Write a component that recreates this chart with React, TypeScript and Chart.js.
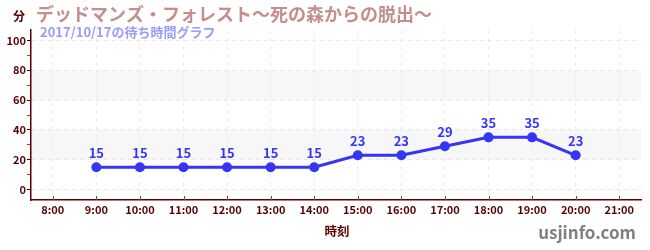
import React, { useEffect, useRef } from "react";
import { Chart, registerables } from "chart.js";

Chart.register(...registerables);

const hours = ["8:00", "9:00", "10:00", "11:00", "12:00", "13:00", "14:00", "15:00", "16:00", "17:00", "18:00", "19:00", "20:00", "21:00"];
const waitTimes: (number | null)[] = [null, 15, 15, 15, 15, 15, 15, 23, 23, 29, 35, 35, 23, null];
const yTicks = [0, 10, 20, 30, 40, 50, 60, 70, 80, 90, 100];
const bands: [number, number][] = [[20, 40], [60, 80]];

const titleText = "デッドマンズ・フォレスト〜死の森からの脱出〜";
const subtitleText = "2017/10/17の待ち時間グラフ";
const unitText = "分";
const xTitleText = "時刻";
const siteText = "usjinfo.com";

const FONT = "'Noto Sans CJK JP', 'Noto Sans', sans-serif";
const MAROON = "#5a0000";
const BLUE = "#3535f5";

export default function App() {
  const ref = useRef<HTMLCanvasElement | null>(null);

  useEffect(() => {
    const canvas = ref.current;
    if (!canvas) return;

    const decor = {
      id: "decor",
      beforeDraw(chart: any) {
        const { ctx, chartArea } = chart;
        const y = chart.scales.y;
        ctx.save();
        ctx.fillStyle = "#f7f7f7";
        for (const [a, b] of bands) {
          const y1 = y.getPixelForValue(b);
          const y2 = y.getPixelForValue(a);
          ctx.fillRect(chartArea.left, y1, chartArea.right - chartArea.left, y2 - y1);
        }
        ctx.restore();
      },
      afterDatasetsDraw(chart: any) {
        const { ctx, chartArea } = chart;
        const meta = chart.getDatasetMeta(0);
        ctx.save();
        // x-axis tick marks (inside)
        const x = chart.scales.x;
        ctx.strokeStyle = "#555";
        ctx.lineWidth = 1;
        hours.forEach((_, i) => {
          const px = Math.round(x.getPixelForValue(i)) + 0.5;
          ctx.beginPath();
          ctx.moveTo(px, chartArea.bottom - 4);
          ctx.lineTo(px, chartArea.bottom);
          ctx.stroke();
        });
        // data labels
        ctx.fillStyle = BLUE;
        ctx.font = `bold 13px ${FONT}`;
        ctx.textAlign = "center";
        ctx.textBaseline = "middle";
        meta.data.forEach((pt: any, i: number) => {
          const v = waitTimes[i];
          if (v == null) return;
          ctx.fillText(String(v), pt.x, pt.y - 14);
        });
        ctx.restore();
      },
      afterDraw(chart: any) {
        const { ctx } = chart;
        ctx.save();
        ctx.textBaseline = "middle";
        ctx.textAlign = "left";
        ctx.fillStyle = MAROON;
        ctx.font = `bold 12px ${FONT}`;
        ctx.fillText(unitText, 13, 16);
        ctx.fillStyle = "#c48e8e";
        ctx.font = `bold 18px ${FONT}`;
        ctx.fillText(titleText, 36, 14);
        ctx.fillStyle = "#9a9aff";
        ctx.font = `bold 13px ${FONT}`;
        ctx.fillText(subtitleText, 40, 32);
        ctx.fillStyle = MAROON;
        ctx.font = `bold 12.5px ${FONT}`;
        ctx.textAlign = "center";
        ctx.fillText(xTitleText, 337, 231);
        ctx.fillStyle = "#808080";
        ctx.font = `bold 17px ${FONT}`;
        ctx.textAlign = "right";
        ctx.fillText(siteText, 636, 233);
        ctx.restore();
      },
    };

    const chart = new Chart(canvas, {
      type: "line",
      data: {
        labels: hours,
        datasets: [
          {
            data: waitTimes,
            borderColor: BLUE,
            backgroundColor: BLUE,
            borderWidth: 3,
            pointRadius: 5,
            pointBorderWidth: 0,
            pointBackgroundColor: BLUE,
            tension: 0,
            fill: false,
          },
        ],
      },
      options: {
        responsive: false,
        animation: false,
        layout: { padding: { top: 30, right: 9, left: 0, bottom: 0 } },
        plugins: { legend: { display: false }, tooltip: { enabled: false }, title: { display: false } },
        scales: {
          x: {
            type: "category",
            offset: true,
            afterFit: (s: any) => { s.height = 50; },
            grid: { offset: false, color: "#ececec", drawTicks: false },
            border: { color: MAROON, width: 1.5, dash: [4, 4] },
            ticks: { color: MAROON, padding: 3, font: { family: FONT, size: 11, weight: "bold" }, maxRotation: 0, autoSkip: false },
          },
          y: {
            min: -7,
            max: 107,
            afterBuildTicks: (s: any) => { s.ticks = yTicks.map((v) => ({ value: v })); },
            afterFit: (s: any) => { s.width = 31; },
            grid: {
              color: (c: any) => (c.tick && c.tick.value % 20 === 0 ? "#e6e6e6" : "rgba(0,0,0,0)"),
              tickColor: (c: any) => (c.tick && c.tick.value % 20 === 0 ? "#111" : "#dd2222"),
              tickLength: 4,
              drawTicks: true,
            },
            border: { color: MAROON, width: 1.5, dash: [4, 4] },
            ticks: {
              color: MAROON,
              padding: 1,
              font: { family: FONT, size: 11, weight: "bold" },
              callback: (v: any) => (Number(v) % 20 === 0 ? String(v) : ""),
            },
          },
        },
      },
      plugins: [decor],
    } as any);

    return () => chart.destroy();
  }, []);

  return (
    <div style={{ position: "fixed", left: 0, top: 0, width: 650, height: 250 }}>
      <canvas ref={ref} width={650} height={250} />
    </div>
  );
}
